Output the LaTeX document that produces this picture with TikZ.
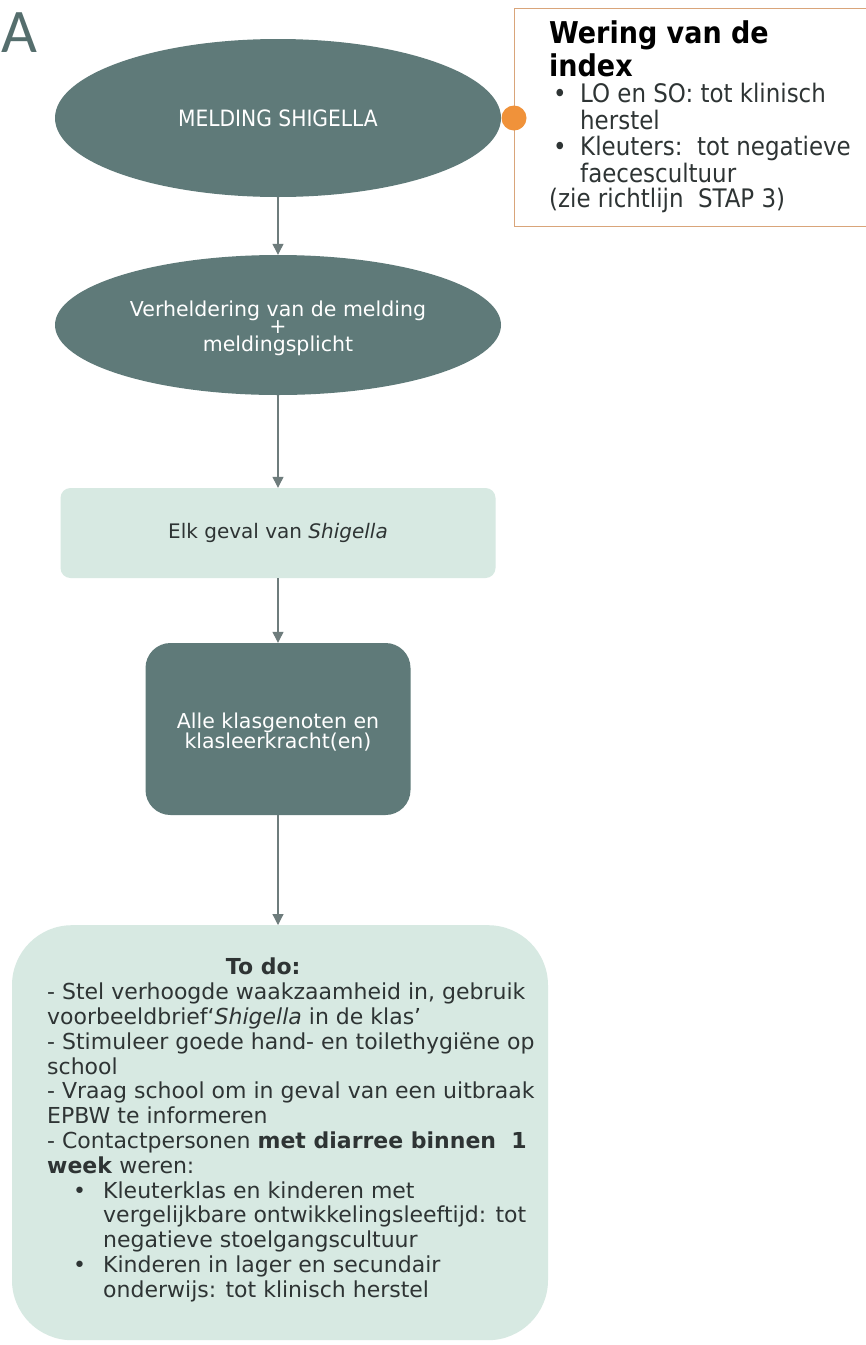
\documentclass[tikz,border=0pt]{standalone}
\usepackage{fontspec}
\setmainfont{DejaVu Sans}
\newfontfamily\condfont{DejaVu Sans Condensed}
\newfontfamily\afont{Carlito}
\usetikzlibrary{shapes.geometric,arrows.meta}
\definecolor{darkteal}{HTML}{5F7A79}
\definecolor{lightteal}{HTML}{D7E9E2}
\definecolor{dotorange}{HTML}{F0923A}
\definecolor{boxborder}{HTML}{D9A57A}
\definecolor{arrowgray}{HTML}{6E7C7C}
\definecolor{textdark}{HTML}{2E3434}
\begin{document}
\begin{tikzpicture}[x=1pt,y=-1pt,
  darkell/.style={ellipse, fill=darkteal, draw=none, text=white, inner sep=0pt},
  lightbox/.style={rectangle, fill=lightteal, draw=none, text=textdark},
  darkbox/.style={rectangle, fill=darkteal, draw=none, text=white},
  flow/.style={draw=arrowgray, line width=1.2pt, -{Triangle[length=11pt,width=11pt]}}]
\useasboundingbox (0,0) rectangle (866,1345);
\fill[white] (0,0) rectangle (866,1345);

\node[anchor=north west, inner sep=0pt, text=darkteal!90!black, font={\afont\fontsize{62}{62}\selectfont}] (lbl) at (1,13) {A};

\node[darkell, minimum width=446pt, minimum height=158pt, font={\condfont\fontsize{22.5}{24}\selectfont}] (e1) at (278,118) {MELDING SHIGELLA};

\node[rectangle, draw=boxborder, line width=1.2pt, fill=white, minimum width=352pt, minimum height=218pt, anchor=north west] (wbox) at (514,8) {};
\node[anchor=north west, inner sep=0pt, align=left, text=textdark, font={\condfont\fontsize{25.5}{26.5}\selectfont}] (wtext) at (549,20) {%
{\color{black}\bfseries\fontsize{30}{30}\selectfont Wering van de}\\[3pt]
{\color{black}\bfseries\fontsize{30}{30}\selectfont index}\\[0pt]
\hspace*{4pt}\makebox[27pt][l]{\textbullet}LO en SO: tot klinisch\\
\hspace*{31pt}herstel\\
\hspace*{4pt}\makebox[27pt][l]{\textbullet}Kleuters:\ \ tot negatieve\\
\hspace*{31pt}faecescultuur\\[-1pt]
(zie richtlijn\ \ STAP 3)};

\node[circle, fill=dotorange, draw=none, minimum size=25pt, inner sep=0pt] (dot) at (514,118) {};

\node[darkell, minimum width=446pt, minimum height=140pt] (e2) at (278,325) {};
\node[align=center, text=white, inner sep=0pt, font={\fontsize{20.5}{17.5}\selectfont}] (e2t) at (278,328) {Verheldering van de melding\\+\\meldingsplicht};

\node[lightbox, rounded corners=10pt, minimum width=435pt, minimum height=90pt, font={\fontsize{20}{22}\selectfont}] (b1) at (278,533) {Elk geval van \textit{Shigella}};

\node[darkbox, rounded corners=25pt, minimum width=265pt, minimum height=172pt] (b2) at (278,729) {};
\node[align=center, text=white, inner sep=0pt, font={\fontsize{20.5}{19}\selectfont}] (b2t) at (278,732) {Alle klasgenoten en\\klasleerkracht(en)};

\node[lightbox, rounded corners=60pt, minimum width=536pt, minimum height=415pt, anchor=north] (b3) at (280,925) {};

\node[anchor=north west, inner sep=0pt, align=left, text=textdark, font={\fontsize{22}{24.8}\selectfont}] (todo) at (47,958) {%
\makebox[432pt][c]{\bfseries To do:}\\
- Stel verhoogde waakzaamheid in, gebruik\\
voorbeeldbrief`\textit{Shigella} in de klas'\\
- Stimuleer goede hand- en toilethygiëne op\\
school\\
- Vraag school om in geval van een uitbraak\\
EPBW te informeren\\
- Contactpersonen \textbf{met diarree binnen\ \ 1}\\
\textbf{week} weren:\\
\hspace*{26pt}\makebox[30pt][l]{\textbullet}Kleuterklas en kinderen met\\
\hspace*{56pt}vergelijkbare ontwikkelingsleeftijd: tot\\
\hspace*{56pt}negatieve stoelgangscultuur\\
\hspace*{26pt}\makebox[30pt][l]{\textbullet}Kinderen in lager en secundair\\
\hspace*{56pt}onderwijs: tot klinisch herstel};

\draw[flow] (e1.south) -- (e2.north);
\draw[flow] (e2.south) -- (b1.north);
\draw[flow] (b1.south) -- (b2.north);
\draw[flow] (b2.south) -- (b2.south |- b3.north);
\end{tikzpicture}
\end{document}
